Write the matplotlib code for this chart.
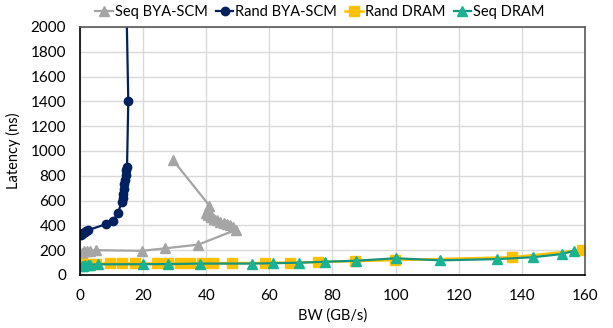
import matplotlib.pyplot as plt

plt.rcParams['font.family'] = ['Lato', 'DejaVu Sans']

# Sequential BYA-SCM: bandwidth rises then latency climbs as BW falls back
seq_scm_bw = [0.5, 1.3, 2.2, 3.2, 5.2, 19.5, 27.0, 37.5, 49.5, 48.5, 47.5, 46.5,
              45.5, 44.5, 43.5, 42.5, 41.5, 40.5, 40.0, 40.5, 41.0, 29.5]
seq_scm_lat = [180, 190, 195, 195, 200, 195, 215, 245, 365, 390, 400, 410,
               420, 430, 440, 450, 465, 480, 500, 530, 560, 925]

# Random BYA-SCM
rand_scm_bw = [0.2, 0.5, 1.0, 1.5, 2.0, 2.6, 8.2, 10.5, 12.1, 13.2, 13.5, 13.7,
               13.9, 14.1, 14.3, 14.5, 14.7, 14.9, 15.3, 14.4]
rand_scm_lat = [325, 332, 340, 348, 355, 362, 410, 438, 503, 590, 620, 650,
                690, 730, 770, 810, 845, 870, 1405, 2600]

# Random DRAM
rand_dram_bw = [0.2, 1.0, 1.8, 3.2, 5.0, 9.5, 13.2, 17.4, 24.3, 28.0, 31.7, 34.8,
                38.5, 42.2, 48.1, 58.6, 66.5, 75.5, 87.1, 99.8, 136.8, 158.9]
rand_dram_lat = [85, 90, 90, 92, 92, 93, 93, 93, 93, 93, 94, 94,
                 94, 95, 96, 98, 100, 104, 112, 120, 143, 200]

# Sequential DRAM
seq_dram_bw = [0.5, 1.0, 1.6, 2.4, 3.2, 5.8, 20.1, 27.8, 38.0, 54.4, 61.3, 69.5,
               77.6, 87.4, 100.1, 114.1, 132.0, 143.4, 152.8, 156.5]
seq_dram_lat = [70, 75, 80, 82, 83, 86, 87, 88, 92, 92, 95, 99,
                107, 115, 135, 118, 128, 143, 169, 196]

fig = plt.figure(figsize=(6.13, 3.28), dpi=100)
ax = fig.add_axes([0.1305, 0.1616, 0.8238, 0.7561])

ax.plot(seq_scm_bw, seq_scm_lat, color='#a5a5a5', lw=1.6, marker='^', ms=7,
        label='Seq BYA-SCM')
ax.plot(rand_scm_bw, rand_scm_lat, color='#002060', lw=1.6, marker='o', ms=6,
        label='Rand BYA-SCM')
ax.plot(rand_dram_bw, rand_dram_lat, color='#ffc000', lw=1.8, marker='s', ms=6.5,
        label='Rand DRAM')
ax.plot(seq_dram_bw, seq_dram_lat, color='#17947e', lw=1.6, marker='^', ms=6.5,
        markerfacecolor='#19b393', markeredgecolor='#19b393', label='Seq DRAM')

ax.set_xlim(0, 160)
ax.set_ylim(0, 2000)
ax.set_xticks(range(0, 161, 20))
ax.set_yticks(range(0, 2001, 200))
ax.grid(True, color='#d9d9d9', lw=1)
ax.set_axisbelow(True)
ax.tick_params(length=0, labelsize=11)
ax.tick_params(axis='y', pad=10)
ax.tick_params(axis='x', pad=10)
for side in ['top', 'right']:
    ax.spines[side].set_color('#595959')
    ax.spines[side].set_linewidth(1.2)
for side in ['left', 'bottom']:
    ax.spines[side].set_color('black')
    ax.spines[side].set_linewidth(1.2)

ax.set_xlabel('BW (GB/s)', fontsize=10.5, labelpad=4)
ax.set_ylabel('Latency (ns)', fontsize=10.5, labelpad=7)

fig.legend(loc='center', bbox_to_anchor=(0.522, 0.962), ncol=4, frameon=False,
           fontsize=10.5, handlelength=1.2, handletextpad=0.15, columnspacing=0.55,
           borderaxespad=0)

fig.savefig('out.png', dpi=100)
